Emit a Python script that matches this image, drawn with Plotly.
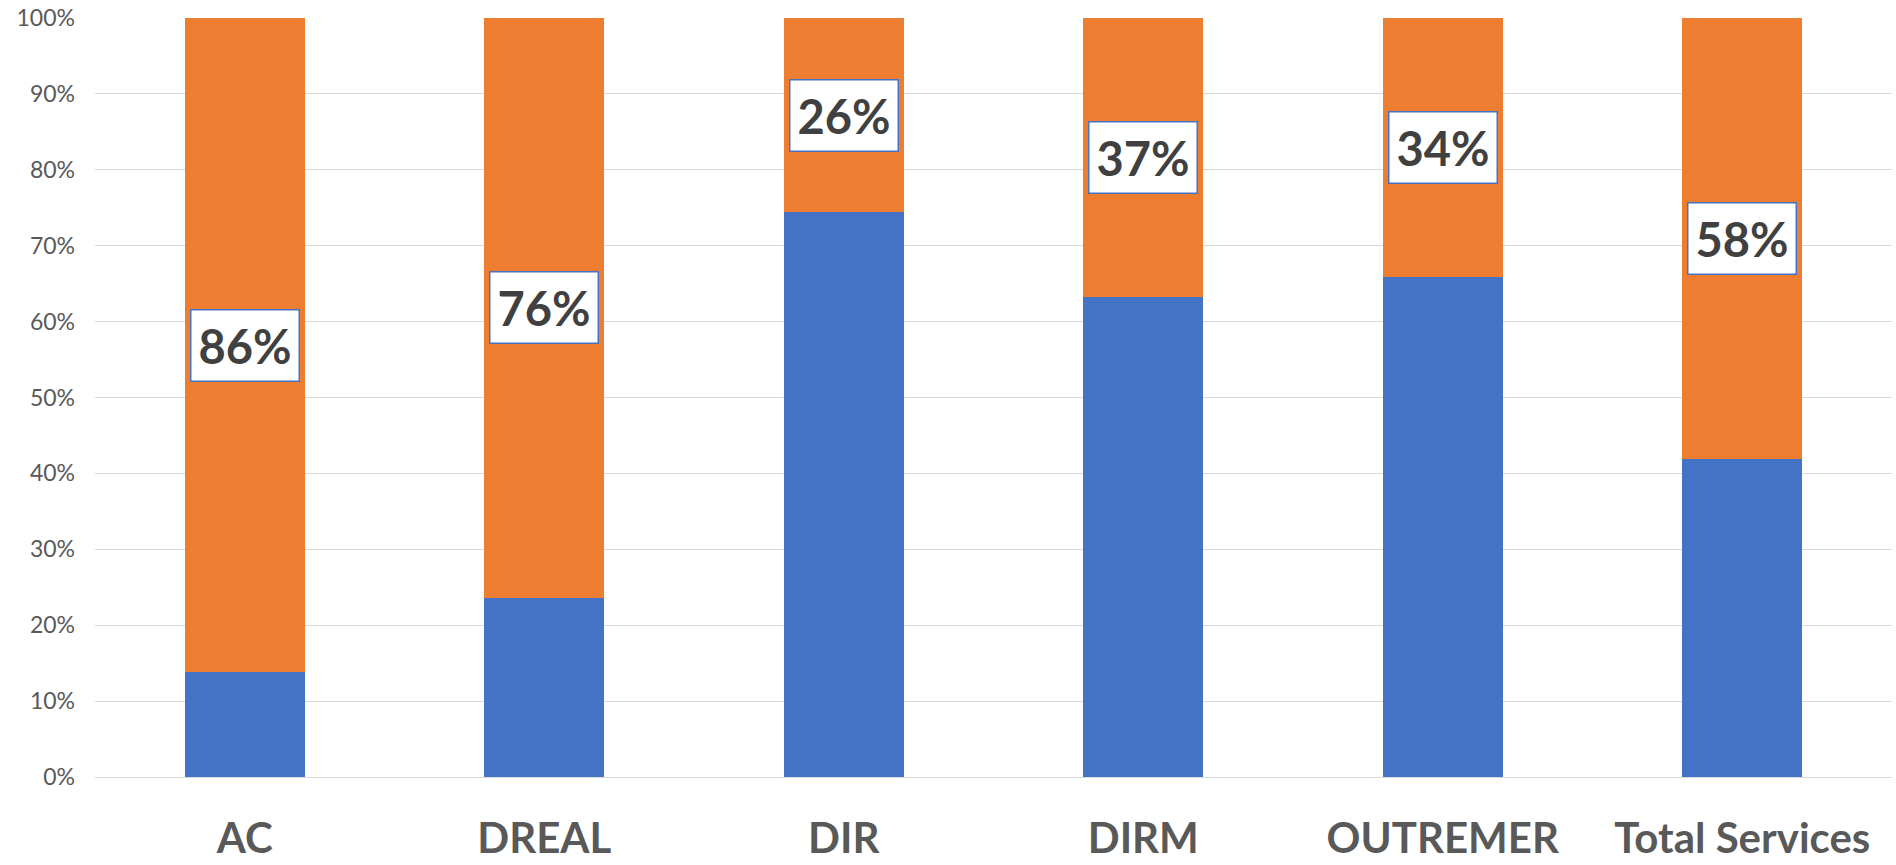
import plotly.graph_objects as go

categories = ["AC", "DREAL", "DIR", "DIRM", "OUTREMER", "Total Services"]
blue_values = [13.8, 23.6, 74.4, 63.2, 65.9, 41.9]
orange_values = [86.2, 76.4, 25.6, 36.8, 34.1, 58.1]
orange_labels = ["86%", "76%", "26%", "37%", "34%", "58%"]
y_ticks = [0, 10, 20, 30, 40, 50, 60, 70, 80, 90, 100]
y_tick_labels = [f"{v}%" for v in y_ticks]

BLUE = "#4472C4"
ORANGE = "#ED7D31"
GRID = "#D9D9D9"
TXT = "#595959"

fig = go.Figure()
fig.add_trace(go.Bar(x=categories, y=blue_values, marker=dict(color=BLUE, line=dict(width=0)),
                     hoverinfo="skip", name="blue"))
fig.add_trace(go.Bar(x=categories, y=orange_values, marker=dict(color=ORANGE, line=dict(width=0)),
                     hoverinfo="skip", name="orange"))

for c, b, o, t in zip(categories, blue_values, orange_values, orange_labels):
    fig.add_annotation(x=c, y=b + o / 2, text=f"<b>{t}</b>", showarrow=False,
                       font=dict(family="Lato", size=47, color="#404040"),
                       bgcolor="white", bordercolor=BLUE, borderwidth=1.5, borderpad=7,
                       xref="x", yref="y")

fig.update_layout(
    barmode="stack",
    bargap=0.6,
    width=1896, height=865,
    margin=dict(l=95, r=4, t=18, b=88, autoexpand=False),
    plot_bgcolor="white", paper_bgcolor="white",
    showlegend=False,
    font=dict(family="Lato", color=TXT),
)
fig.update_yaxes(range=[0, 100], tickvals=y_ticks, ticktext=y_tick_labels,
                 gridcolor=GRID, gridwidth=1.3, zeroline=False, showline=False,
                 tickfont=dict(family="Lato", size=23, color=TXT),
                 ticklabelstandoff=19, ticklabeloverflow="allow",
                 automargin=False, fixedrange=True)
fig.update_xaxes(showline=True, linecolor=GRID, linewidth=1.3, showgrid=False,
                 tickfont=dict(family="Lato", size=42, color=TXT),
                 tickvals=categories, ticktext=[f"<b>{c}</b>" for c in categories],
                 ticklabelstandoff=24, ticklabeloverflow="allow",
                 automargin=False, fixedrange=True)

fig.write_html("out.html", config={"displayModeBar": False},
               post_script="document.body.style.margin='0px';document.body.style.overflow='hidden';")
